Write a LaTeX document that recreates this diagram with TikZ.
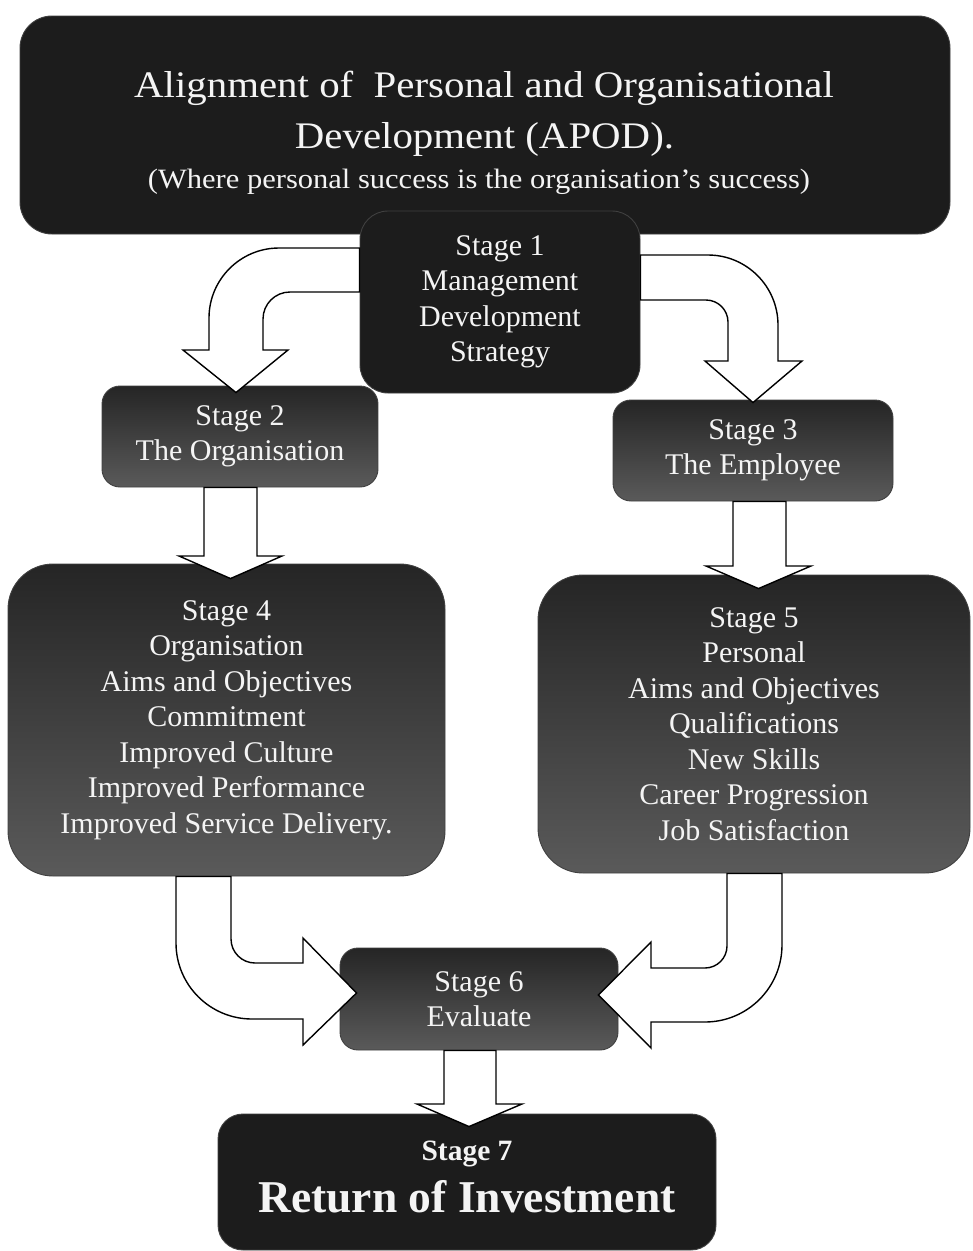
\documentclass[tikz,border=0pt]{standalone}
\usepackage{fontspec}
\setmainfont{Liberation Serif}
\newfontfamily\widefam[FakeStretch=1.09]{Liberation Serif}
\usetikzlibrary{calc}
\definecolor{boxdark}{HTML}{1C1C1C}
\definecolor{gtop}{HTML}{252525}
\definecolor{gbot}{HTML}{5A5A5A}
\definecolor{txtw}{HTML}{F4F4F4}
\newcommand\stagefont{\fontsize{30}{35.5}\selectfont}
\newcommand\titlefont{\widefam\fontsize{37.5}{42}\selectfont}
\newcommand\subtitlefont{\widefam\fontsize{28}{33}\selectfont}
\newcommand\roifont{\fontsize{45.5}{50}\selectfont\bfseries}
\newcommand\stagesevenfont{\fontsize{29.5}{34}\selectfont\bfseries}
\begin{document}
\begin{tikzpicture}[x=1pt,y=-1pt,
  box/.style={draw=black!75, line width=0.9pt, rounded corners=#1, inner sep=0pt,
              text=txtw, align=center, font=\stagefont},
  darkbox/.style={box=#1, fill=boxdark},
  gradbox/.style={box=#1, top color=gtop, bottom color=gbot},
  lbl/.style={text=txtw, anchor=base, inner sep=0pt},
  blockarrow/.style={draw=black, fill=white, line width=1.4pt, line join=miter}]

\fill[white] (0,0) rectangle (973,1251);
\useasboundingbox (0,0) rectangle (973,1251);

% title
\node[darkbox=32pt, minimum width=930pt, minimum height=218pt] (title) at (485,125) {};
\node[lbl, font=\titlefont] (t1) at (484,97.5) {Alignment of\ \ Personal and Organisational};
\node[lbl, font=\titlefont] (t2) at (484.5,148) {Development (APOD).};
\node[lbl, font=\subtitlefont] (t3) at (479,188) {(Where personal success is the organisation’s success)};

% stages
\node[darkbox=28pt, minimum width=280pt, minimum height=182pt] (s1) at (500,302)
  {Stage 1\\Management\\Development\\Strategy};
\node[gradbox=18pt, minimum width=276pt, minimum height=101pt] (s2) at (240,436.5)
  {Stage 2\\The Organisation};
\node[gradbox=18pt, minimum width=280pt, minimum height=101pt] (s3) at (753,450.5)
  {Stage 3\\The Employee};
\node[gradbox=45pt, minimum width=437pt, minimum height=312pt] (s4) at (226.5,720)
  {Stage 4\\Organisation\\Aims and Objectives\\Commitment\\Improved Culture\\Improved Performance\\Improved Service Delivery.};
\node[gradbox=45pt, minimum width=432pt, minimum height=298pt] (s5) at (754,724)
  {Stage 5\\Personal\\Aims and Objectives\\Qualifications\\New Skills\\Career Progression\\Job Satisfaction};
\node[gradbox=18pt, minimum width=278pt, minimum height=102pt] (s6) at (479,999)
  {Stage 6\\Evaluate};
\node[darkbox=25pt, minimum width=498pt, minimum height=136pt] (s7) at (467,1182) {};
\node[lbl, font=\stagesevenfont] (s7a) at (467,1160) {Stage 7};
\node[lbl, font=\roifont] (s7b) at (467,1212) {Return of Investment};

% block arrows
\draw[blockarrow] (s1.west |- 0,248) -- (279,248) .. controls (240.4,248) and (209,279.4) .. (209,318)
  -- (209,350) -- (183,350) -- ($(s2.north)+(-4,7)$) -- (288,350) -- (263,350) -- (263,319)
  .. controls (263,304.1) and (275.1,292) .. (290,292) -- (s1.west |- 0,292) -- cycle;
\draw[blockarrow] (s1.east |- 0,255) -- (708,255) .. controls (746.6,255) and (778,286.4) .. (778,325)
  -- (778,361) -- (802,361) -- ($(s3.north)+(0,3)$) -- (705,361) -- (728,361) -- (728,322)
  .. controls (728,309.9) and (718.1,300) .. (706,300) -- (s1.east |- 0,300) -- cycle;
\draw[blockarrow] (204,0 |- s2.south) -- (204,556) -- (179,556) -- ($(s4.north)+(4,15)$)
  -- (282,556) -- (257,556) -- (257,0 |- s2.south) -- cycle;
\draw[blockarrow] (733,0 |- s3.south) -- (733,566) -- (706,566) -- ($(s5.north)+(4.5,14)$)
  -- (811,566) -- (786,566) -- (786,0 |- s3.south) -- cycle;
\draw[blockarrow] (176,0 |- s4.south) -- (176,943) .. controls (176,985) and (210,1019) .. (252,1019)
  -- (303,1019) -- (303,1045) -- ($(s6.west)+(17,-6)$) -- (303,938) -- (303,963) -- (255,963)
  .. controls (241.8,963) and (231,952.2) .. (231,939) -- (231,0 |- s4.south) -- cycle;
\draw[blockarrow] (782,0 |- s5.south) -- (782,945) .. controls (782,987.5) and (747.5,1022) .. (705,1022)
  -- (651,1022) -- (651,1048) -- ($(s6.east)+(-20,-4)$) -- (651,942) -- (651,968) -- (705,968)
  .. controls (717.1,968) and (727,958.1) .. (727,946) -- (727,0 |- s5.south) -- cycle;
\draw[blockarrow] (444,0 |- s6.south) -- (444,1104) -- (417,1104) -- ($(s7.north)+(2,13)$)
  -- (522,1104) -- (496,1104) -- (496,0 |- s6.south) -- cycle;
\end{tikzpicture}
\end{document}
